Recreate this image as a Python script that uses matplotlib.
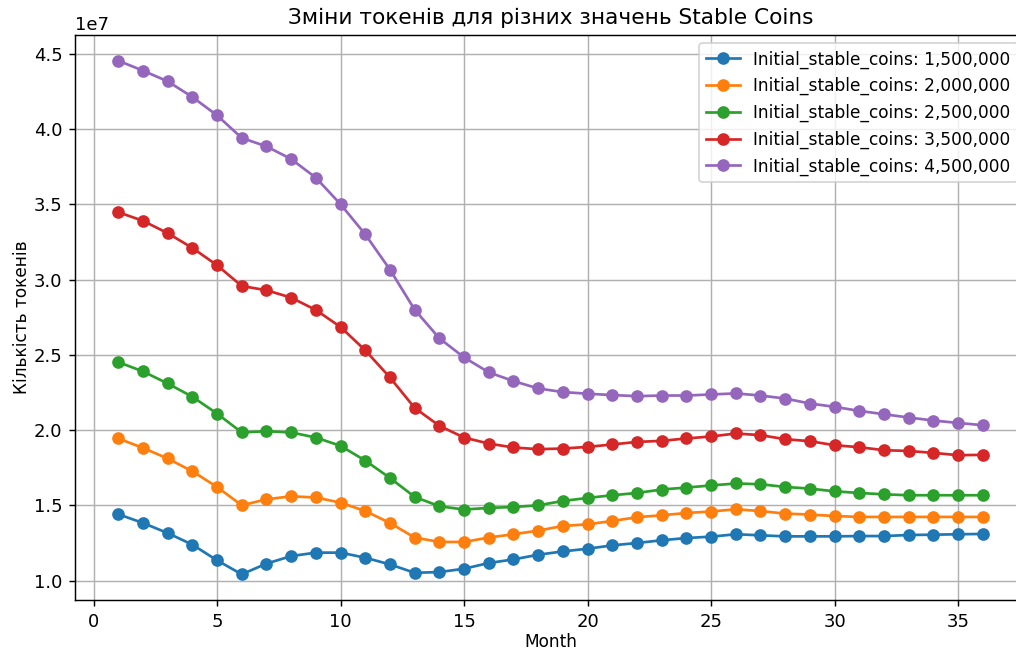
import numpy as np
import matplotlib
matplotlib.use("Agg")
import matplotlib.pyplot as plt

months = list(range(1, 37))
initial_coins = [1500000, 2000000, 2500000, 3500000, 4500000]

# values in units of 1e7
tokens_1500k = [1.442, 1.384, 1.317, 1.240, 1.136, 1.043, 1.114, 1.164, 1.187, 1.187,
                1.153, 1.109, 1.053, 1.058, 1.080, 1.118, 1.142, 1.173, 1.195, 1.213,
                1.235, 1.251, 1.269, 1.284, 1.293, 1.309, 1.302, 1.295, 1.295, 1.295,
                1.297, 1.297, 1.304, 1.306, 1.309, 1.311]
tokens_2000k = [1.945, 1.882, 1.812, 1.727, 1.623, 1.501, 1.541, 1.561, 1.553, 1.519,
                1.463, 1.384, 1.287, 1.258, 1.258, 1.287, 1.309, 1.333, 1.364, 1.375,
                1.397, 1.422, 1.435, 1.450, 1.460, 1.475, 1.463, 1.446, 1.440, 1.430,
                1.424, 1.424, 1.424, 1.424, 1.424, 1.424]
tokens_2500k = [2.452, 2.390, 2.310, 2.222, 2.110, 1.985, 1.993, 1.985, 1.951, 1.896,
                1.798, 1.683, 1.557, 1.495, 1.473, 1.484, 1.490, 1.501, 1.530, 1.550,
                1.568, 1.583, 1.606, 1.619, 1.633, 1.646, 1.641, 1.623, 1.612, 1.594,
                1.583, 1.574, 1.568, 1.568, 1.568, 1.568]
tokens_3500k = [3.447, 3.390, 3.308, 3.210, 3.095, 2.957, 2.929, 2.880, 2.798, 2.685,
                2.530, 2.350, 2.148, 2.029, 1.951, 1.911, 1.885, 1.874, 1.878, 1.889,
                1.905, 1.922, 1.929, 1.945, 1.958, 1.978, 1.967, 1.940, 1.927, 1.900,
                1.887, 1.867, 1.862, 1.849, 1.834, 1.836]
tokens_4500k = [4.453, 4.387, 4.316, 4.212, 4.090, 3.940, 3.884, 3.800, 3.676, 3.500,
                3.300, 3.066, 2.800, 2.610, 2.483, 2.384, 2.326, 2.277, 2.253, 2.242,
                2.233, 2.226, 2.230, 2.230, 2.237, 2.244, 2.230, 2.210, 2.177, 2.155,
                2.128, 2.106, 2.084, 2.064, 2.048, 2.033]

series = [tokens_1500k, tokens_2000k, tokens_2500k, tokens_3500k, tokens_4500k]

DPI = 130
fig = plt.figure(figsize=(1016 / DPI, 651 / DPI), dpi=DPI)
# the original was cropped on the right, so the axes run past the figure edge
ax = fig.add_axes([75 / 1016, 51 / 651, 951 / 1016, 565 / 651])

for coins, vals in zip(initial_coins, series):
    ax.plot(months, np.array(vals) * 1e7, marker='o', label=f"Initial_stable_coins: {coins:,}")

ax.set_title("Зміни токенів для різних значень Stable Coins")
ax.set_xlabel("Month", fontsize=9.4, labelpad=1.5)
ax.set_ylabel("Кількість токенів", fontsize=9.4, labelpad=1.5)
ax.legend(fontsize=9.4)
ax.grid(True)

plt.savefig("out.png", dpi=DPI)
